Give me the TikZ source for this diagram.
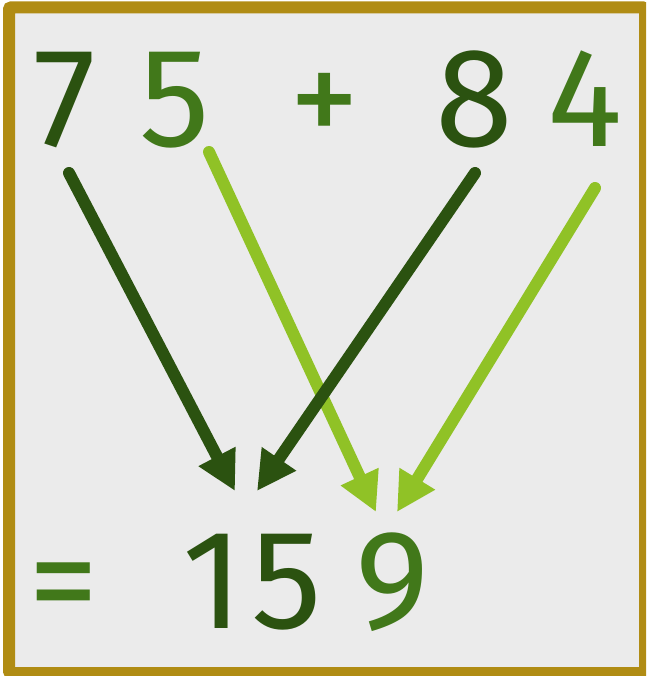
\documentclass[tikz,border=0pt]{standalone}
\usepackage{fontspec}
\setmainfont{Fira Sans}
\usetikzlibrary{arrows.meta}
\definecolor{sumdark}{HTML}{2B5210}
\definecolor{summid}{HTML}{41781A}
\definecolor{sumlight}{HTML}{90C226}
\definecolor{framegold}{HTML}{B08C14}
\definecolor{panelgray}{HTML}{EBEBEB}
\tikzset{
  digit/.style={anchor=base, inner sep=0pt, font=\fontsize{141}{141}\selectfont},
  darkdigit/.style={digit, text=sumdark},
  middigit/.style={digit, text=summid},
  carry/.style={line width=12pt, line cap=round, -{Triangle[length=39pt,width=39pt]}},
  darkarr/.style={carry, color=sumdark},
  lightarr/.style={carry, color=sumlight}
}
\begin{document}
\begin{tikzpicture}[x=1pt, y=-1pt]
\useasboundingbox (0,0) rectangle (646,676);
\clip (0,0) rectangle (646,676);
\draw[framegold, fill=panelgray, line width=12pt, rounded corners=2pt] (9,7.5) rectangle (645,673);
% top row
\node[darkdigit] (seven) at (64.5,147) {7};
\node[middigit] (five) at (175,147) {5};
\node[middigit] (plus) at (325,147) {+};
\node[darkdigit] (eight) at (474.5,147) {8};
\node[middigit] (four) at (585,147) {4};
% result row
\node[middigit] (equals) at (64,628) {=};
\node[darkdigit] (tensone) at (213,628) {1};
\node[darkdigit] (tensfive) at (287,628) {5};
\node[middigit] (ones) at (393,628) {9};
% arrow ends
\coordinate (s7) at (69,173);
\coordinate (s5) at (209,152);
\coordinate (s8) at (475,173);
\coordinate (s4) at (595,188);
\coordinate (e7) at (235,491);
\coordinate (e8) at (257,491);
\coordinate (e5) at (376,512);
\coordinate (e4) at (397,512);
\draw[darkarr] (s7) -- (e7);
\draw[lightarr] (s5) -- (e5);
\draw[darkarr] (s8) -- (e8);
\draw[lightarr] (s4) -- (e4);
\end{tikzpicture}
\end{document}
